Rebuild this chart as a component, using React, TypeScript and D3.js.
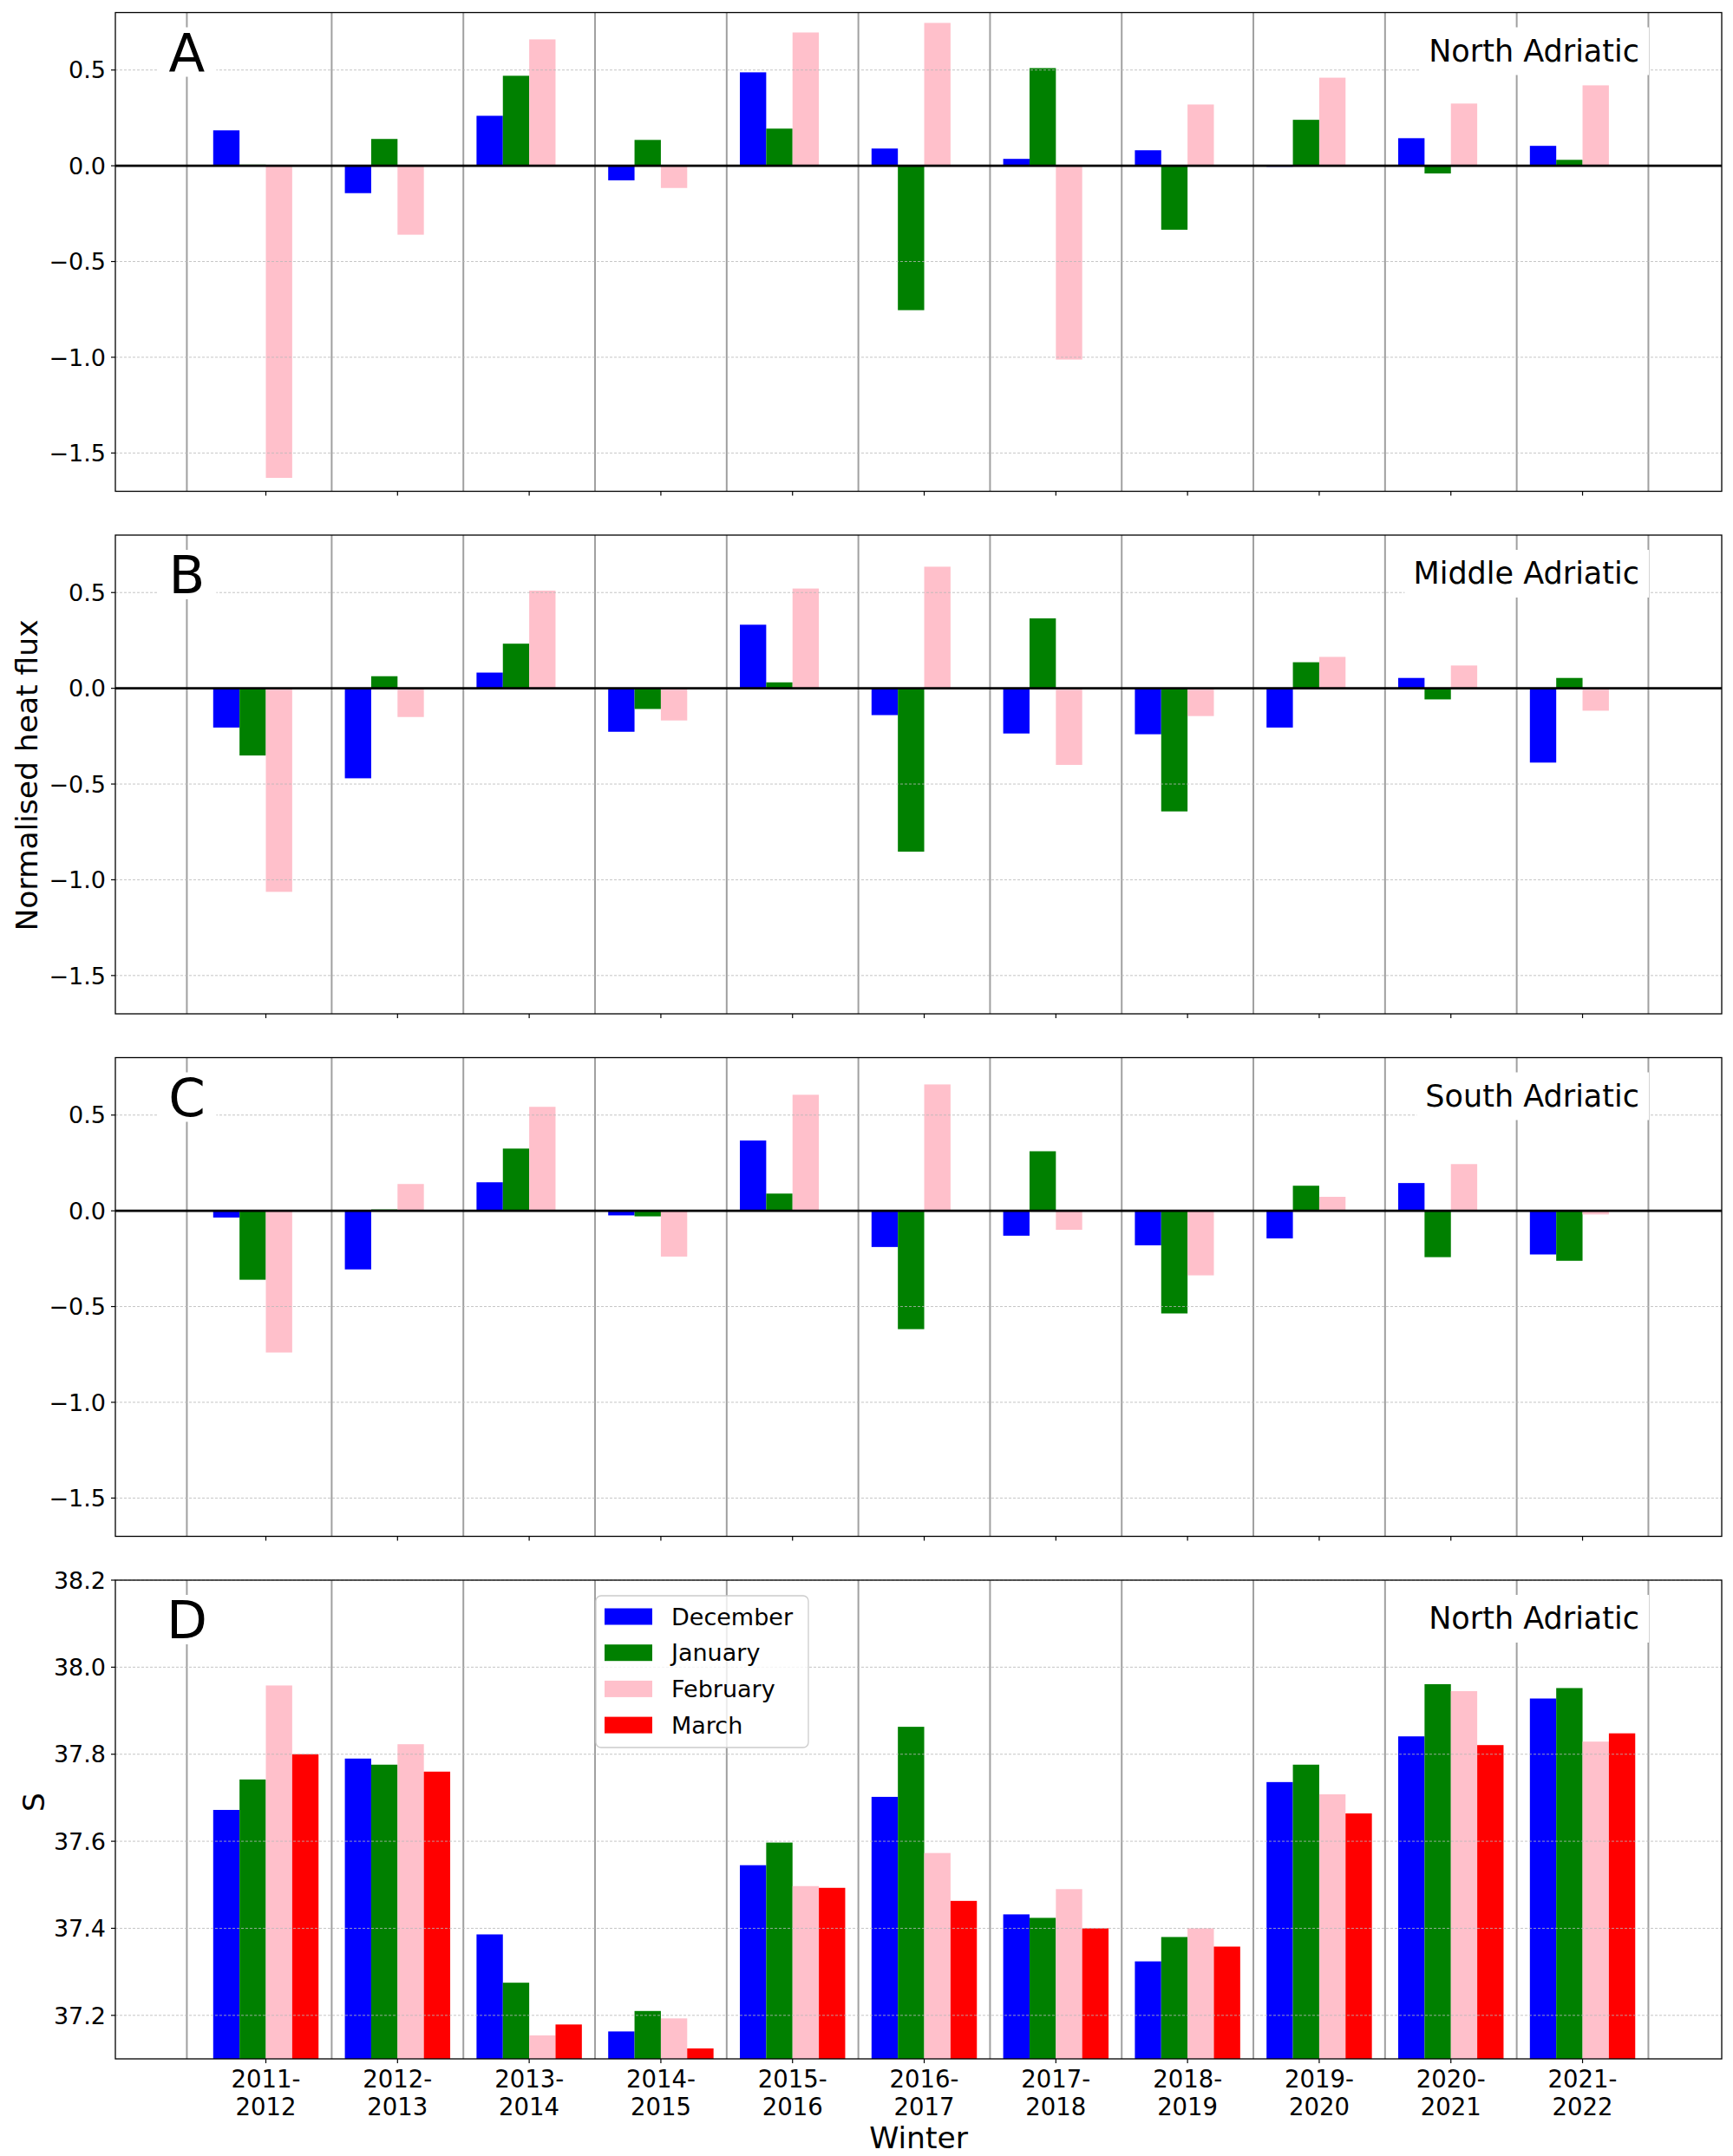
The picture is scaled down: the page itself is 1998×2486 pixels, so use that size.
import * as d3 from 'd3'

const winters = ['2011-2012', '2012-2013', '2013-2014', '2014-2015', '2015-2016', '2016-2017',
  '2017-2018', '2018-2019', '2019-2020', '2020-2021', '2021-2022']
const months = ['December', 'January', 'February', 'March']
const monthColors = ['#0000ff', '#008000', '#ffc0cb', '#ff0000']

// A: North Adriatic, normalised heat flux
const northDec = [0.185, -0.143, 0.261, -0.076, 0.488, 0.09, 0.036, 0.081, -0.005, 0.144, 0.104]
const northJan = [0.006, 0.14, 0.47, 0.135, 0.194, -0.754, 0.51, -0.334, 0.24, -0.04, 0.031]
const northFeb = [-1.63, -0.36, 0.66, -0.116, 0.696, 0.746, -1.012, 0.32, 0.46, 0.325, 0.42]

// B: Middle Adriatic
const middleDec = [-0.205, -0.47, 0.082, -0.227, 0.332, -0.14, -0.236, -0.24, -0.205, 0.054, -0.388]
const middleJan = [-0.351, 0.063, 0.233, -0.108, 0.031, -0.853, 0.365, -0.643, 0.136, -0.058, 0.054]
const middleFeb = [-1.063, -0.15, 0.51, -0.168, 0.521, 0.635, -0.4, -0.145, 0.164, 0.119, -0.117]

// C: South Adriatic
const southDec = [-0.035, -0.306, 0.149, -0.024, 0.367, -0.189, -0.13, -0.18, -0.144, 0.145, -0.228]
const southJan = [-0.36, 0.007, 0.325, -0.029, 0.09, -0.618, 0.311, -0.536, 0.131, -0.242, -0.261]
const southFeb = [-0.74, 0.14, 0.543, -0.239, 0.606, 0.66, -0.099, -0.337, 0.073, 0.244, -0.019]

// D: North Adriatic salinity
const salDec = [37.672, 37.79, 37.386, 37.163, 37.545, 37.702, 37.432, 37.324, 37.736, 37.841, 37.928]
const salJan = [37.742, 37.776, 37.275, 37.21, 37.597, 37.863, 37.424, 37.38, 37.776, 37.961, 37.952]
const salFeb = [37.958, 37.823, 37.154, 37.193, 37.497, 37.573, 37.49, 37.4, 37.708, 37.945, 37.829]
const salMar = [37.8, 37.76, 37.179, 37.124, 37.493, 37.463, 37.4, 37.358, 37.664, 37.821, 37.848]

const separators = [-0.6, 0.5, 1.5, 2.5, 3.5, 4.5, 5.5, 6.5, 7.5, 8.5, 9.5, 10.5]
const fluxTicks = [-1.5, -1.0, -0.5, 0.0, 0.5]
const salTicks = [37.2, 37.4, 37.6, 37.8, 38.0, 38.2]
const barOffsets = [-0.3, -0.1, 0.1, 0.3]
const barWidth = 0.2

const W = 1998
const H = 2486
const LEFT = 133
const RIGHT = 1985
const PANEL_H = 552
const FONT = 'DejaVu Sans'

const x = d3.scaleLinear().domain([-1.143, 11.057]).range([LEFT, RIGHT])

function textWidth(s: string, size: number) {
  const ctx = document.createElement('canvas').getContext('2d')
  if (!ctx) return s.length * size * 0.55
  ctx.font = `${size}px "${FONT}"`
  return ctx.measureText(s).width
}

const fmt = (v: number) => v.toFixed(1).replace('-', '\u2212')

function Panel({ top, domain, ticks, series, letter, title, zeroLine, xLabels }: {
  top: number
  domain: [number, number]
  ticks: number[]
  series: number[][]
  letter: string
  title: string
  zeroLine: boolean
  xLabels: boolean
}) {
  const bottom = top + PANEL_H
  const y = d3.scaleLinear().domain(domain).range([bottom, top])
  const base = zeroLine ? y(0) : bottom
  const tw = textWidth(title, 35)
  const titleRight = 1890
  return (
    <g>
      {separators.map((s, i) => (
        <line key={'s' + i} x1={x(s)} x2={x(s)} y1={top} y2={bottom} stroke="#a0a0a0" strokeWidth={2} />
      ))}
      {series.map((vals, m) => vals.map((v, i) => {
        const x0 = x(i + barOffsets[m] - barWidth / 2)
        const x1 = x(i + barOffsets[m] + barWidth / 2)
        const yv = y(v)
        return (
          <rect key={`b${m}-${i}`} x={x0} width={x1 - x0} y={Math.min(yv, base)}
            height={Math.abs(base - yv)} fill={monthColors[m]} />
        )
      }))}
      {ticks.map((t, i) => (
        <line key={'g' + i} x1={LEFT} x2={RIGHT} y1={y(t)} y2={y(t)}
          stroke="#b8b8b8" strokeWidth={1} strokeDasharray="3,2" opacity={0.8} />
      ))}
      {zeroLine && (
        <line x1={LEFT} x2={RIGHT} y1={y(0)} y2={y(0)} stroke="#000" strokeWidth={2.6} />
      )}
      <rect x={x(-0.6) - 34} y={top + 17} width={68} height={57} fill="#fff" />
      <text x={x(-0.6)} y={top + 67} fontSize={61} textAnchor="middle" fontFamily={FONT}>{letter}</text>
      <rect x={titleRight - tw - 10} y={top + 17} width={tw + 21} height={55} fill="#fff" />
      <text x={titleRight} y={top + 56} fontSize={35} textAnchor="end" fontFamily={FONT}>{title}</text>
      <rect x={LEFT} y={top} width={RIGHT - LEFT} height={PANEL_H} fill="none" stroke="#000" strokeWidth={1.3} />
      {ticks.map((t, i) => (
        <g key={'t' + i}>
          <line x1={LEFT - 5} x2={LEFT} y1={y(t)} y2={y(t)} stroke="#000" strokeWidth={1.2} />
          <text x={LEFT - 11} y={y(t)} dy="0.36em" fontSize={27} textAnchor="end" fontFamily={FONT}>
            {zeroLine ? fmt(t) : t.toFixed(1)}
          </text>
        </g>
      ))}
      {winters.map((w, i) => {
        const [a, b] = w.split('-')
        return (
          <g key={'x' + i}>
            <line x1={x(i)} x2={x(i)} y1={bottom} y2={bottom + 5} stroke="#000" strokeWidth={1.2} />
            {xLabels && (
              <text x={x(i)} fontSize={27.5} textAnchor="middle" fontFamily={FONT}>
                <tspan x={x(i)} y={bottom + 33}>{a + '-'}</tspan>
                <tspan x={x(i)} y={bottom + 65}>{b}</tspan>
              </text>
            )}
          </g>
        )
      })}
    </g>
  )
}

function Legend({ left, top }: { left: number; top: number }) {
  return (
    <g>
      <rect x={left} y={top} width={245} height={175} rx={6} fill="#fff" fillOpacity={0.8}
        stroke="#cccccc" strokeWidth={1.3} />
      {months.map((m, i) => {
        const cy = top + 24 + i * 41.7
        return (
          <g key={m}>
            <rect x={left + 10} y={cy - 9.5} width={55} height={19} fill={monthColors[i]} />
            <text x={left + 87} y={cy} dy="0.36em" fontSize={27} fontFamily={FONT}>{m}</text>
          </g>
        )
      })}
    </g>
  )
}

export default function App() {
  const tops = [14.5, 617, 1219.5, 1822]
  return (
    <svg width={W} height={H} viewBox={`0 0 ${W} ${H}`}
      style={{ position: 'absolute', left: 0, top: 0, background: '#fff', display: 'block' }}>
      <rect width={W} height={H} fill="#fff" />
      <Panel top={tops[0]} domain={[-1.7, 0.8]} ticks={fluxTicks} series={[northDec, northJan, northFeb]}
        letter="A" title="North Adriatic" zeroLine xLabels={false} />
      <Panel top={tops[1]} domain={[-1.7, 0.8]} ticks={fluxTicks} series={[middleDec, middleJan, middleFeb]}
        letter="B" title="Middle Adriatic" zeroLine xLabels={false} />
      <Panel top={tops[2]} domain={[-1.7, 0.8]} ticks={fluxTicks} series={[southDec, southJan, southFeb]}
        letter="C" title="South Adriatic" zeroLine xLabels={false} />
      <Panel top={tops[3]} domain={[37.1, 38.2]} ticks={salTicks} series={[salDec, salJan, salFeb, salMar]}
        letter="D" title="North Adriatic" zeroLine={false} xLabels />
      <Legend left={687} top={1840} />
      <text transform="translate(43,894) rotate(-90)" fontSize={34.5} textAnchor="middle" fontFamily={FONT}>
        Normalised heat flux
      </text>
      <text transform="translate(51,2078) rotate(-90)" fontSize={34.5} textAnchor="middle" fontFamily={FONT}>
        S
      </text>
      <text x={(LEFT + RIGHT) / 2} y={2477} fontSize={34.5} textAnchor="middle" fontFamily={FONT}>Winter</text>
    </svg>
  )
}
